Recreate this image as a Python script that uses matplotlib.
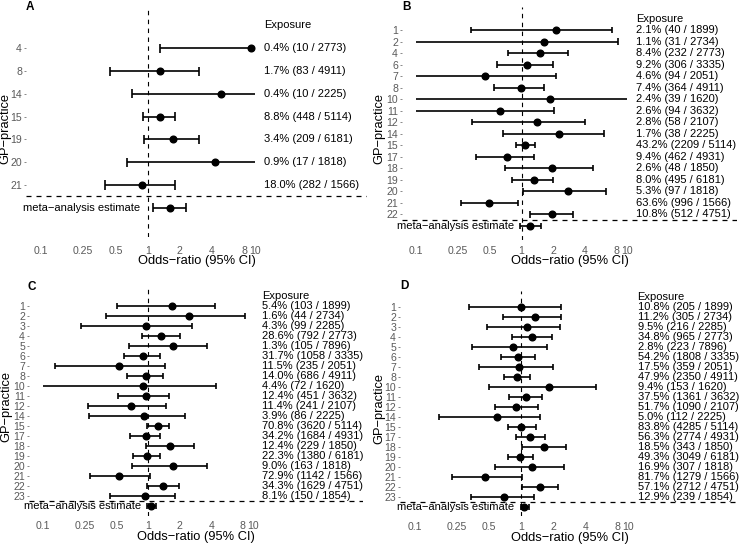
import numpy as np
import matplotlib.pyplot as plt

plt.rcParams['font.family'] = ['Liberation Sans', 'DejaVu Sans']

# practice sizes (denominator of the exposure column)
practice_ids = [1, 2, 3, 4, 5, 6, 7, 8, 10, 11, 12, 14, 15, 17, 18, 19, 20, 21, 22, 23]
practice_n = [1899, 2734, 2285, 2773, 7896, 3335, 2051, 4911, 1620, 3632,
              2107, 2225, 5114, 4931, 1850, 6181, 1818, 1566, 4751, 1854]

# A
a_practice = [4, 8, 14, 15, 19, 20, 21]
a_exposed = [10, 83, 10, 448, 209, 17, 282]
a_or = [9.3, 1.30, 4.87, 1.29, 1.72, 4.25, 0.885]
a_lo = [1.31, 0.447, 0.713, 0.904, 0.917, 0.64, 0.40]
a_hi = [40.0, 3.01, 30.0, 1.79, 2.99, 25.0, 1.80]
a_meta = [1.60, 1.11, 2.27]

# B
b_practice = [1, 2, 4, 6, 7, 8, 10, 11, 12, 14, 15, 17, 18, 19, 20, 21, 22]
b_exposed = [40, 31, 232, 306, 94, 364, 39, 94, 58, 38, 2209, 462, 48, 495, 97, 996, 512]
b_or = [2.11, 1.65, 1.50, 1.12, 0.45, 0.98, 1.87, 0.627, 1.41, 2.28, 1.08, 0.72, 1.95, 1.30, 2.79, 0.49, 1.94]
b_lo = [0.333, 0.05, 0.74, 0.58, 0.06, 0.543, 0.04, 0.05, 0.336, 0.66, 0.88, 0.366, 0.70, 0.818, 1.03, 0.263, 1.21]
b_hi = [7.31, 8.27, 2.77, 2.01, 2.13, 1.62, 12.0, 2.05, 4.03, 6.03, 1.33, 1.30, 4.79, 2.01, 6.38, 0.92, 3.07]
b_meta = [1.21, 0.965, 1.54]

# C
c_practice = practice_ids
c_exposed = [103, 44, 99, 792, 105, 1058, 235, 686, 72, 451,
             241, 86, 3620, 1684, 229, 1380, 163, 1142, 1629, 150]
c_or = [1.69, 2.44, 0.95, 1.33, 1.72, 0.886, 0.53, 0.95, 0.90, 0.95,
        0.69, 0.905, 1.24, 0.945, 1.63, 0.97, 1.73, 0.53, 1.38, 0.94]
c_lo = [0.50, 0.392, 0.229, 0.867, 0.66, 0.589, 0.128, 0.628, 0.09, 0.518,
        0.265, 0.27, 0.97, 0.67, 0.95, 0.715, 0.705, 0.278, 0.965, 0.434]
c_hi = [4.36, 8.41, 2.64, 2.01, 3.65, 1.31, 1.45, 1.38, 4.42, 1.59,
        1.49, 2.23, 1.59, 1.30, 2.72, 1.31, 3.67, 1.04, 1.97, 1.81]
c_meta = [1.07, 0.98, 1.20]

# D
d_practice = practice_ids
d_exposed = [205, 305, 216, 965, 223, 1808, 359, 2350, 153, 1361,
             1090, 112, 4285, 2774, 343, 3049, 307, 1279, 2712, 239]
d_or = [0.985, 1.33, 1.12, 1.27, 0.837, 0.93, 0.957, 0.92, 1.82, 1.10,
        0.90, 0.59, 1.0, 1.21, 1.64, 0.97, 1.25, 0.456, 1.50, 0.695]
d_lo = [0.326, 0.68, 0.48, 0.82, 0.346, 0.65, 0.40, 0.695, 0.50, 0.766,
        0.57, 0.171, 0.75, 0.895, 1.01, 0.743, 0.57, 0.225, 1.02, 0.339]
d_hi = [2.38, 2.38, 2.31, 1.92, 1.73, 1.33, 1.99, 1.21, 5.03, 1.56,
        1.44, 1.50, 1.36, 1.67, 2.64, 1.29, 2.49, 1.01, 2.21, 1.31]
d_meta = [1.05, 0.985, 1.18]

tick_vals = [0.1, 0.25, 0.5, 1, 2, 4, 8, 10]
tick_labs = ['0.1', '0.25', '0.5', '1', '2', '4', '8', '10']

W, H = 740, 548
GREY = '#5a5a5a'
XLIM = (0.073, 112)
CLIP = (0.1, 10)

fig = plt.figure(figsize=(W / 100, H / 100), dpi=100)


def forest(box, ylim, cap, tag, tag_xy, ylab_xy, tick_pad, xlab_off,
           practice, exposed, odds, lo, hi, meta):
    left, top, right, bottom = box
    ax = fig.add_axes([left / W, 1 - bottom / H, (right - left) / W, (bottom - top) / H])
    n = len(practice)
    y = np.arange(1, n + 1)
    lo = np.array(lo)
    hi = np.array(hi)

    ax.axvline(1, color='black', lw=0.8, ls=(0, (4, 4)), zorder=1)
    ax.axhline(n + 0.5, color='black', lw=0.9, ls=(0, (4, 4)), zorder=1)

    lo_c = np.clip(lo, *CLIP)
    hi_c = np.clip(hi, *CLIP)
    ax.hlines(y, lo_c, hi_c, color='black', lw=1.2, zorder=2)
    inl = lo >= CLIP[0]
    inh = hi <= CLIP[1]
    ax.vlines(lo[inl], y[inl] - cap / 2, y[inl] + cap / 2, color='black', lw=1.2, zorder=2)
    ax.vlines(hi[inh], y[inh] - cap / 2, y[inh] + cap / 2, color='black', lw=1.2, zorder=2)
    ax.plot(odds, y, 'o', color='black', ms=4.8, zorder=3)

    # meta-analysis row
    ym = n + 1
    ax.hlines(ym, meta[1], meta[2], color='black', lw=1.2, zorder=2)
    ax.vlines([meta[1], meta[2]], ym - cap / 2, ym + cap / 2, color='black', lw=1.2, zorder=2)
    ax.plot([meta[0]], [ym], 'o', color='black', ms=4.8, zorder=3)
    ax.text(0.85, ym, 'meta\u2212analysis estimate', ha='right', va='center', fontsize=8)

    # exposure column
    ax.text(12.3, 0, 'Exposure', ha='left', va='center', fontsize=8)
    for yi, p, e in zip(y, practice, exposed):
        tot = practice_n[practice_ids.index(p)]
        ax.text(12.3, yi, f'{100 * e / tot:.1f}% ({e} / {tot})',
                ha='left', va='center', fontsize=8)

    ax.set_xscale('log')
    ax.set_xlim(*XLIM)
    ax.set_ylim(*ylim)
    ax.set_xticks(tick_vals)
    ax.set_xticklabels(tick_labs)
    ax.minorticks_off()
    ax.set_yticks(y)
    ax.set_yticklabels([str(p) for p in practice])
    ax.tick_params(axis='x', length=0, pad=tick_pad, labelsize=7.6, labelcolor=GREY)
    ax.tick_params(axis='y', length=1.8, width=0.5, color=GREY, pad=1,
                   labelsize=7.6, labelcolor=GREY)
    for s in ax.spines.values():
        s.set_visible(False)

    fig.text(tag_xy[0] / W, 1 - tag_xy[1] / H, tag, fontsize=8.5,
             fontweight='bold', ha='left', va='center')
    fig.text(ylab_xy[0] / W, 1 - ylab_xy[1] / H, 'GP\u2212practice', fontsize=9.3,
             rotation=90, ha='center', va='center')
    fig.text((left + right) / 2 / W, 1 - (bottom + xlab_off) / H, 'Odds\u2212ratio (95% CI)',
             fontsize=9.3, ha='center', va='center')
    return ax


forest((26, 10, 367, 237), (9.28, -0.68), 0.4, 'A', (26, 6.7), (5, 129), 6.5, 24,
       a_practice, a_exposed, a_or, a_lo, a_hi, a_meta)
forest((402, 7, 737, 240), (19.23, -1.0), 0.56, 'B', (402, 6.7), (379, 129), 4.5, 21,
       b_practice, b_exposed, b_or, b_lo, b_hi, b_meta)
forest((29, 287, 363, 515.7), (22.0, -0.87), 0.62, 'C', (27, 287.5), (6, 406), 4, 21.5,
       c_practice, c_exposed, c_or, c_lo, c_hi, c_meta)
forest((400, 290.7, 740, 516), (21.87, -0.66), 0.62, 'D', (400, 286), (379, 408), 4, 21.5,
       d_practice, d_exposed, d_or, d_lo, d_hi, d_meta)

fig.savefig('out.png', dpi=100)
